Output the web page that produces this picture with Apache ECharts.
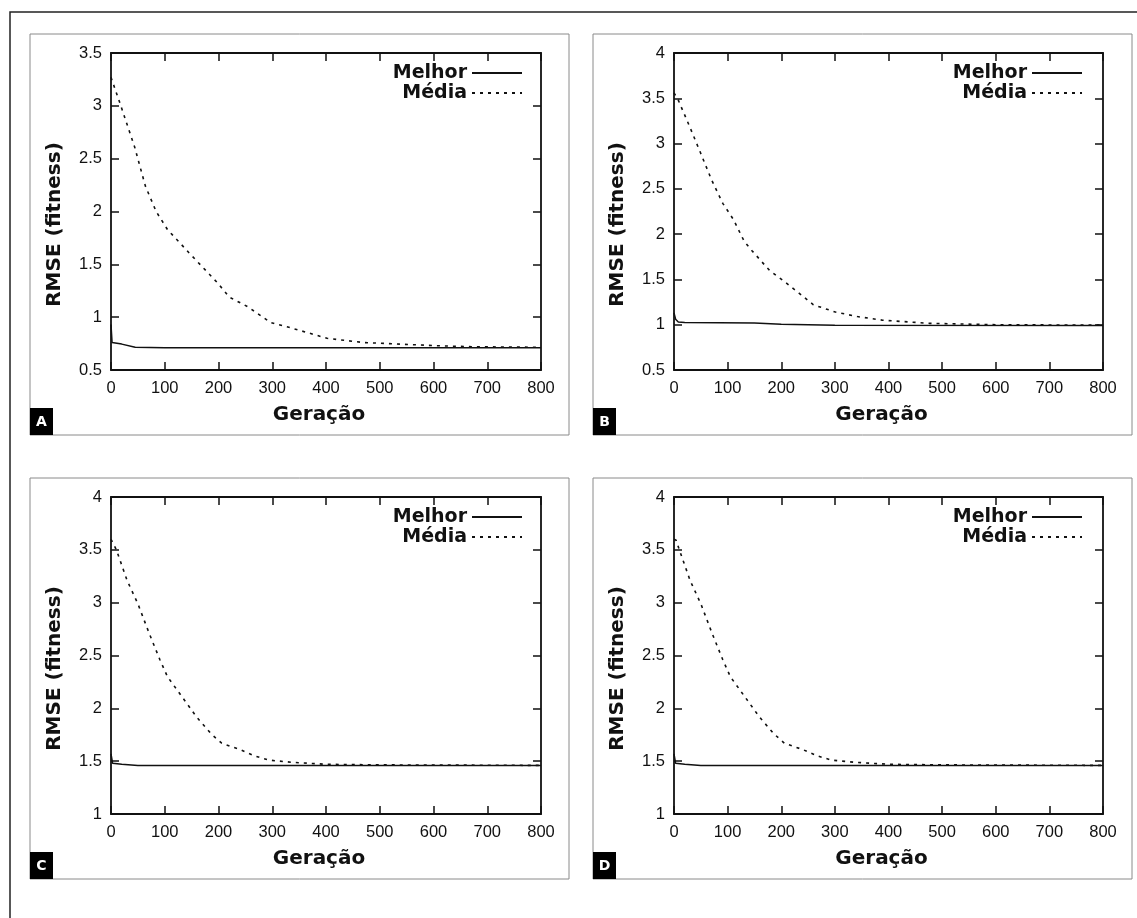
<!DOCTYPE html>
<html><head><meta charset="utf-8">
<script src="https://cdn.jsdelivr.net/npm/echarts@6/dist/echarts.min.js"></script>
<style>html,body{margin:0;padding:0;background:#fff;}#chart{width:1137px;height:918px;}</style>
</head><body><div id="chart"></div>
<script>
// ---- data ----
const panelLabels = ['A', 'B', 'C', 'D'];
const seriesNames = ['Melhor', 'Média'];
const xAxisName = 'Geração';
const yAxisName = 'RMSE (fitness)';
const xRange = [0, 800];
const yRanges = [[0.5, 3.5], [0.5, 4], [1, 4], [1, 4]];

// Panel A
const genA_best = [0, 2, 20, 45, 100, 800];
const valA_best = [0.93, 0.76, 0.745, 0.715, 0.71, 0.71];
const genA_mean = [0, 3, 17, 44, 64, 84, 105, 145, 199, 220, 254, 297, 334, 402, 470, 537, 605, 673, 800];
const valA_mean = [3.27, 3.26, 3.02, 2.61, 2.24, 2.00, 1.83, 1.61, 1.32, 1.19, 1.10, 0.95, 0.90, 0.80, 0.76, 0.745, 0.73, 0.72, 0.715];

// Panel B
const genB_best = [0, 3, 8, 20, 150, 200, 300, 800];
const valB_best = [1.13, 1.06, 1.03, 1.025, 1.02, 1.005, 0.995, 0.99];
const genB_mean = [0, 8, 29, 50, 70, 91, 111, 131, 145, 178, 205, 233, 260, 301, 342, 389, 477, 600, 800];
const valB_mean = [3.56, 3.48, 3.19, 2.89, 2.60, 2.34, 2.16, 1.92, 1.82, 1.60, 1.48, 1.35, 1.22, 1.14, 1.09, 1.05, 1.015, 1.0, 0.995];

// Panel C
const genC_best = [0, 3, 20, 50, 800];
const valC_best = [1.57, 1.48, 1.47, 1.46, 1.46];
const genC_mean = [0, 3, 10, 30, 50, 71, 91, 105, 132, 159, 186, 206, 240, 267, 294, 335, 402, 500, 800];
const valC_mean = [3.60, 3.59, 3.50, 3.21, 2.99, 2.71, 2.46, 2.30, 2.11, 1.92, 1.76, 1.67, 1.61, 1.55, 1.51, 1.49, 1.47, 1.465, 1.46];

// Panel D
const genD_best = [0, 3, 20, 50, 800];
const valD_best = [1.57, 1.48, 1.47, 1.46, 1.46];
const genD_mean = [0, 4, 10, 30, 50, 71, 91, 105, 132, 159, 186, 206, 240, 267, 294, 335, 402, 500, 800];
const valD_mean = [3.60, 3.59, 3.50, 3.21, 2.99, 2.71, 2.46, 2.30, 2.11, 1.92, 1.76, 1.67, 1.61, 1.55, 1.51, 1.49, 1.47, 1.465, 1.46];

const bestGens = [genA_best, genB_best, genC_best, genD_best];
const bestVals = [valA_best, valB_best, valC_best, valD_best];
const meanGens = [genA_mean, genB_mean, genC_mean, genD_mean];
const meanVals = [valA_mean, valB_mean, valC_mean, valD_mean];

// ---- layout / style ----
const INK = '#111';
const grids = [
  {left: 111, top: 53, width: 430, height: 317},
  {left: 674, top: 53, width: 429, height: 317},
  {left: 111, top: 497, width: 430, height: 317},
  {left: 674, top: 497, width: 429, height: 317}
];
const boxes = [
  {x: 30, y: 34}, {x: 593, y: 34}, {x: 30, y: 478}, {x: 593, y: 478}
];
const legendPos = [
  {right: 614, top: 63}, {right: 54, top: 63}, {right: 614, top: 507}, {right: 54, top: 507}
];

const zip = (a, b) => a.map((g, i) => [g, b[i]]);
const lineAxis = {lineStyle: {color: INK, width: 1.8}, onZero: false};
const tick = {inside: true, length: 8, lineStyle: {color: INK, width: 1.5}};
const labelFont = {color: INK, fontSize: 16.5, fontFamily: 'Liberation Sans'};
const nameFont = {fontFamily: 'DejaVu Sans', fontWeight: 'bold', fontSize: 20, color: INK};

const xAxes = [], yAxes = [], series = [], legends = [], graphics = [];

graphics.push({type: 'rect', z: 0, shape: {x: 10, y: 12, width: 1150, height: 930},
  style: {fill: 'none', stroke: '#222', lineWidth: 1.5}});

grids.forEach((g, i) => {
  xAxes.push({
    type: 'value', gridIndex: i, position: 'bottom', min: xRange[0], max: xRange[1], interval: 100,
    axisLine: lineAxis, axisTick: tick, splitLine: {show: false},
    axisLabel: Object.assign({margin: 10}, labelFont),
    name: xAxisName, nameLocation: 'middle', nameGap: 35,
    nameTextStyle: Object.assign({padding: [0, 14, 0, 0]}, nameFont)
  });
  xAxes.push({
    type: 'value', gridIndex: i, position: 'top', min: xRange[0], max: xRange[1], interval: 100,
    axisLine: lineAxis, axisTick: tick, splitLine: {show: false}, axisLabel: {show: false}
  });
  yAxes.push({
    type: 'value', gridIndex: i, position: 'left', min: yRanges[i][0], max: yRanges[i][1], interval: 0.5,
    axisLine: lineAxis, axisTick: tick, splitLine: {show: false},
    axisLabel: Object.assign({margin: 9}, labelFont),
    name: yAxisName, nameLocation: 'middle', nameGap: 46,
    nameTextStyle: Object.assign({padding: [0, 26, 0, 0]}, nameFont)
  });
  yAxes.push({
    type: 'value', gridIndex: i, position: 'right', min: yRanges[i][0], max: yRanges[i][1], interval: 0.5,
    axisLine: lineAxis, axisTick: tick, splitLine: {show: false}, axisLabel: {show: false}
  });
  series.push({
    type: 'line', name: seriesNames[0], xAxisIndex: 2 * i, yAxisIndex: 2 * i,
    data: zip(bestGens[i], bestVals[i]), symbol: 'none', showSymbol: false, z: 4,
    lineStyle: {color: INK, width: 1.5}, itemStyle: {color: INK}
  });
  series.push({
    type: 'line', name: seriesNames[1], xAxisIndex: 2 * i, yAxisIndex: 2 * i,
    data: zip(meanGens[i], meanVals[i]), symbol: 'none', showSymbol: false, z: 3,
    lineStyle: {color: INK, width: 1.6, type: [3, 5]}, itemStyle: {color: INK}
  });
  legends.push({
    orient: 'vertical', right: legendPos[i].right, top: legendPos[i].top, align: 'right',
    padding: 0, itemGap: 0, itemWidth: 50, itemHeight: 14, selectedMode: false,
    data: seriesNames,
    itemStyle: {opacity: 0},
    textStyle: {fontFamily: 'DejaVu Sans', fontWeight: 'bold', fontSize: 19, color: INK, lineHeight: 20}
  });
  const b = boxes[i];
  graphics.push({type: 'rect', z: 0, shape: {x: b.x, y: b.y, width: 539, height: 401},
    style: {fill: 'none', stroke: '#8a8a8a', lineWidth: 1}});
  graphics.push({type: 'rect', z: 1, shape: {x: b.x, y: b.y + 374, width: 23, height: 27},
    style: {fill: '#000'}});
  graphics.push({type: 'text', z: 2, x: b.x + 11.5, y: b.y + 388,
    style: {text: panelLabels[i], fill: '#fff', font: 'bold 14px "DejaVu Sans"', align: 'center', verticalAlign: 'middle'}});
});

const chart = echarts.init(document.getElementById('chart'), null, {renderer: 'canvas'});
chart.setOption({
  backgroundColor: '#fff',
  animation: false,
  grid: grids.map(g => Object.assign({outerBoundsMode: 'none', containLabel: false}, g)),
  xAxis: xAxes,
  yAxis: yAxes,
  legend: legends,
  series: series,
  graphic: graphics
});
</script></body></html>
